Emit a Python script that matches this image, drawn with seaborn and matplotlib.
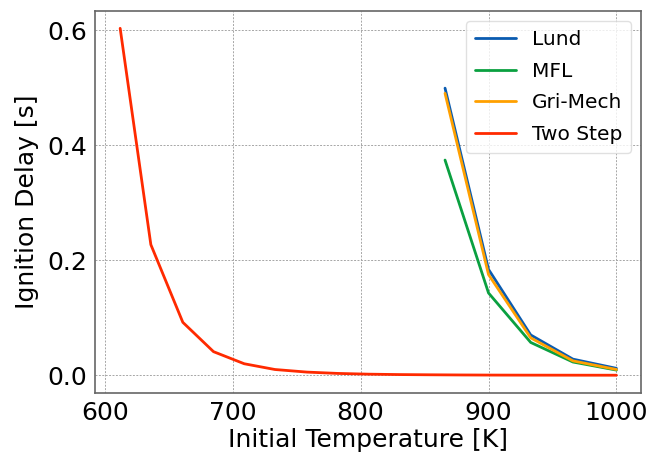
import numpy as np
import pandas as pd
import matplotlib
matplotlib.use("Agg")
import matplotlib.pyplot as plt
import seaborn as sns

# temperatures [K]
T_detailed = [866, 900, 933, 966, 1000]
T_two_step = [612, 636, 661, 685, 709, 733, 758, 782, 806, 830, 855, 879, 903, 927, 952, 976, 1000]

# ignition delays [s]
lund = [0.499, 0.184, 0.070, 0.028, 0.012]
mfl = [0.374, 0.143, 0.057, 0.023, 0.009]
gri_mech = [0.490, 0.175, 0.065, 0.025, 0.010]
two_step = [0.603, 0.227, 0.092, 0.041, 0.020, 0.010, 0.0055, 0.0032, 0.0019,
            0.0012, 0.0008, 0.0005, 0.0003, 0.0002, 0.00015, 0.0001, 0.00007]

mechanisms = ["Lund", "MFL", "Gri-Mech", "Two Step"]
colors = ["#0a5bb0", "#0aa040", "#ffa000", "#ff2a00"]

frames = []
for name, T, tau in [("Lund", T_detailed, lund), ("MFL", T_detailed, mfl),
                     ("Gri-Mech", T_detailed, gri_mech), ("Two Step", T_two_step, two_step)]:
    frames.append(pd.DataFrame({"T": T, "tau": tau, "Mechanism": name}))
df = pd.concat(frames, ignore_index=True)

sns.set_style("whitegrid", {
    "axes.edgecolor": "0.4",
    "grid.color": "0.65",
    "grid.linestyle": (0, (2, 1.5)),
    "text.color": "black",
    "axes.labelcolor": "black",
    "xtick.color": "black",
    "ytick.color": "black",
})
plt.rcParams["font.family"] = ["DejaVu Sans"]

fig, ax = plt.subplots(figsize=(6.53, 4.57), dpi=100)
fig.subplots_adjust(left=0.146, right=0.982, top=0.976, bottom=0.141)

sns.lineplot(data=df, x="T", y="tau", hue="Mechanism", hue_order=mechanisms,
             palette=dict(zip(mechanisms, colors)), linewidth=2, ax=ax,
             sort=False)

for s in ax.spines.values():
    s.set_linewidth(1.2)
ax.grid(True, linewidth=0.7)

ax.set_xticks([600, 700, 800, 900, 1000])
ax.set_yticks([0.0, 0.2, 0.4, 0.6])
ax.tick_params(labelsize=18, length=0, pad=6)
ax.set_xlabel("Initial Temperature [K]", fontsize=18, labelpad=2)
ax.set_ylabel("Ignition Delay [s]", fontsize=18, labelpad=6)

leg = ax.legend(loc="upper right", fontsize=14.5, frameon=True, handlelength=2.0,
                borderpad=0.45, labelspacing=0.62)
leg.get_frame().set_edgecolor("0.85")

fig.savefig("out.png", dpi=100)
